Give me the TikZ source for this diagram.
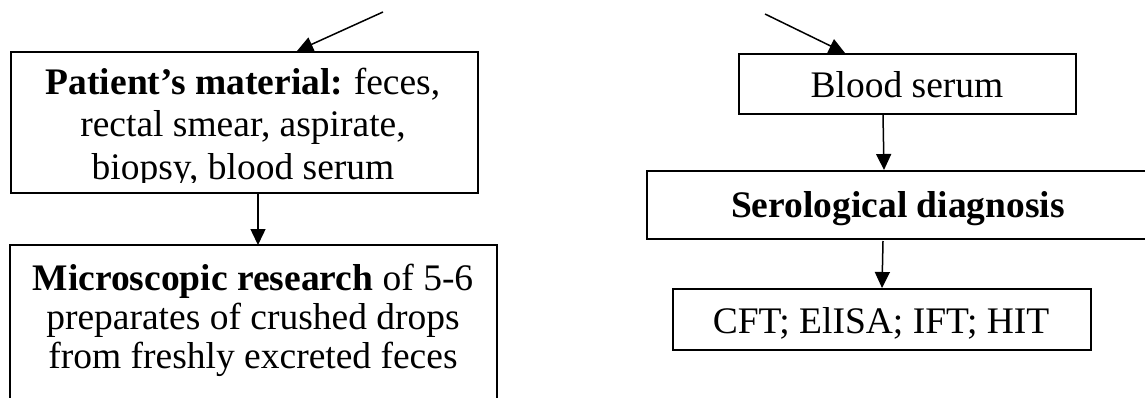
\documentclass[tikz,border=0pt]{standalone}
\usepackage{fontspec}
\setmainfont{Liberation Serif}
\usetikzlibrary{arrows.meta}
\begin{document}
\begin{tikzpicture}[x=1pt,y=1pt,
  box/.style={draw, line width=1.7pt, inner sep=0pt},
  thickbox/.style={draw, line width=2.3pt, inner sep=0pt},
  txt/.style={anchor=base, inner sep=0pt, font=\fontsize{37.5}{42}\selectfont},
  arr/.style={line width=1.5pt, -{Triangle[length=16pt,width=15pt]}}]
\clip (0,0) rectangle (1145,-398);
\fill[white] (0,0) rectangle (1145,-398);
% left column
\node[box, minimum width=467pt, minimum height=141pt, anchor=north west] (pm) at (10,-51) {};
\begin{scope}
\clip (10,-51) rectangle (477,-183);
\node[txt] (pm1) at (243,-95) {\textbf{Patient’s material:}\hspace{-2pt} feces,};
\node[txt] (pm2) at (243,-137) {rectal smear, aspirate,};
\node[txt] (pm3) at (243,-180) {biopsy, blood serum};
\end{scope}
\draw[box] (10,-420) -- (10,-245) -- (497,-245) -- (497,-420);
\coordinate (mr) at (258,-245);
\node[txt] (mr1) at (253,-290) {\textbf{Microscopic research} of 5-6};
\node[txt] (mr2) at (253,-329) {preparates of crushed drops};
\node[txt] (mr3) at (253,-368) {from freshly excreted feces};
\coordinate (s1) at (383,-12);
\draw[arr] (s1) -- (pm.north -| 297,0);
\draw[arr] (pm.south -| mr) -- (mr);
% right column
\node[box, minimum width=337pt, minimum height=60pt, anchor=north west] (bs) at (738,-53) {};
\node[txt] (bst) at (907,-98) {Blood serum};
\node[thickbox, minimum width=520pt, minimum height=68pt, anchor=north west] (sd) at (646,-170) {};
\node[txt] (sdt) at (898,-217) {\textbf{Serological diagnosis}};
\node[box, minimum width=418pt, minimum height=61pt, anchor=north west] (cf) at (672,-288) {};
\node[txt] (cft) at (881,-333) {CFT; ElISA; IFT; HIT};
\coordinate (s2) at (765,-14);
\draw[arr] (s2) -- (bs.north -| 845,0);
\draw[arr] (bs.south -| 883,0) -- (sd.north -| 884,0);
\draw[arr] (883,-241) -- (cf.north -| 882,0);
\end{tikzpicture}
\end{document}
